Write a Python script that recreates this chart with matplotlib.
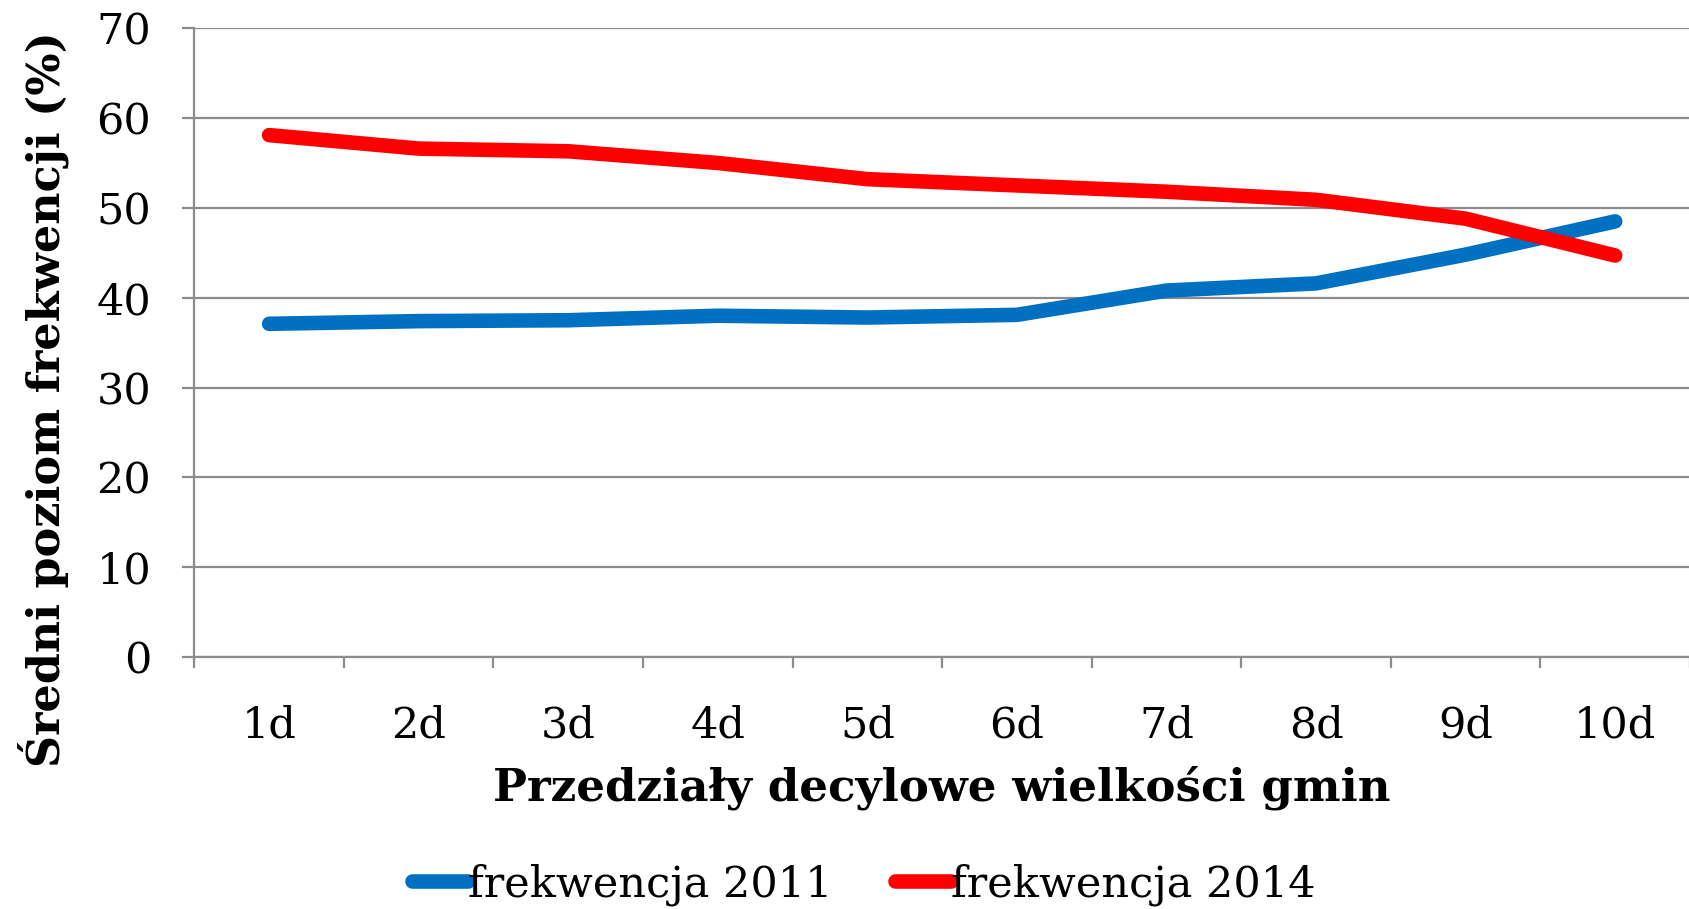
import matplotlib
matplotlib.use("Agg")
import matplotlib.pyplot as plt

# Dane
categories = ["1d", "2d", "3d", "4d", "5d", "6d", "7d", "8d", "9d", "10d"]
turnout_2011 = [37.1, 37.4, 37.5, 38.0, 37.8, 38.1, 40.8, 41.6, 44.8, 48.5]
turnout_2014 = [58.1, 56.6, 56.3, 55.0, 53.2, 52.5, 51.8, 50.9, 48.8, 44.7]
series_labels = ["frekwencja 2011", "frekwencja 2014"]
series_colors = ["#0070C0", "#FF0000"]
y_ticks = [0, 10, 20, 30, 40, 50, 60, 70]

plt.rcParams["font.family"] = ["DejaVu Serif"]
grid_color = "#8c8c8c"

fig = plt.figure(figsize=(16.9, 9.09), dpi=100)
ax = fig.add_axes([0.115, 0.277, 0.885, 0.692])

x = list(range(1, len(categories) + 1))
for vals, lab, col in zip([turnout_2011, turnout_2014], series_labels, series_colors):
    ax.plot(x, vals, color=col, linewidth=10.5, solid_capstyle="round",
            solid_joinstyle="round", label=lab, zorder=3)

ax.set_xlim(0.5, len(categories) + 0.5)
ax.set_ylim(0, 70)
ax.set_yticks(y_ticks)
ax.yaxis.grid(True, color=grid_color, linewidth=1.6)
ax.set_axisbelow(True)

# ticki na granicach kategorii, etykiety w środku
ax.set_xticks([i + 0.5 for i in range(0, len(categories) + 1)])
ax.set_xticklabels([])
ax.set_xticks(x, minor=True)
ax.set_xticklabels(categories, minor=True)
ax.tick_params(axis="x", which="major", length=8, width=1.6, color=grid_color, direction="out")
ax.tick_params(axis="x", which="minor", length=0, pad=34, labelsize=31)
ax.tick_params(axis="y", length=9, width=1.6, color=grid_color, pad=22, labelsize=31)

for side in ["top", "right"]:
    ax.spines[side].set_visible(False)
for side in ["left", "bottom"]:
    ax.spines[side].set_color(grid_color)
    ax.spines[side].set_linewidth(1.6)

ax.set_xlabel("Przedziały decylowe wielkości gmin", fontsize=32.5, fontweight="bold", labelpad=14)
fig.text(0.0255, 0.561, "Średni poziom frekwencji (%)", rotation=90, ha="center",
         va="center", fontsize=32, fontweight="bold")

fig.legend(loc="center", bbox_to_anchor=(0.511, 0.027), ncol=2, frameon=False,
           fontsize=31, handlelength=1.3, handletextpad=0.0, columnspacing=1.45)

fig.savefig("out.png", dpi=100)
